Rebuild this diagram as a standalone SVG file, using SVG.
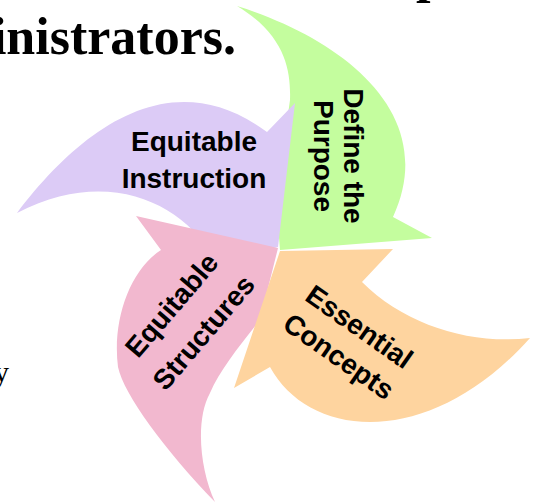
<svg xmlns="http://www.w3.org/2000/svg" width="537" height="503" viewBox="0 0 537 503">
<style>
.lbl{font-family:"Liberation Sans",Arial,sans-serif;font-weight:bold;font-size:28px;fill:#000;text-anchor:middle}
.bg{font-family:"Liberation Serif","Times New Roman",serif;fill:#000}
</style>
<rect width="537" height="503" fill="#fff"/>
<text class="bg" x="236" y="54" font-size="52" font-weight="bold" text-anchor="end">inistrators.</text>
<text class="bg" x="416" y="-8" font-size="52" font-weight="bold">p</text>
<text class="bg" x="9" y="382" font-size="30" text-anchor="end">y</text>
<g id="define-purpose">
<path d="M237,6 C345,40 440,115 393,217 L432,238 L280,250 L276,200 L290,100 C291,70 285,35 237,6 Z" fill="#c4fd9e"/>
<text class="lbl" font-size="27" transform="translate(344,156) rotate(90)"><tspan x="0" y="0">Define the</tspan><tspan x="0" y="30">Purpose</tspan></text>
</g>
<g id="equitable-instruction">
<path d="M17,213 C80,130 170,60 267,132 L295,103 L278,247 L215,260 C185,205 110,165 17,213 Z" fill="#dccbf6"/>
<text class="lbl"><tspan x="194" y="151">Equitable</tspan><tspan x="194" y="188">Instruction</tspan></text>
</g>
<g id="equitable-structures">
<path d="M136,216 L161,250 C130,270 112,320 118,367 C124,395 165,450 215,502 C200,470 195,420 210,393 C220,370 240,345 260,320 L265,300 L278,248 Z" fill="#f2b8cf"/>
<text class="lbl" transform="translate(195,325) rotate(-49.5)"><tspan x="0" y="-21">Equitable</tspan><tspan x="0" y="21">Structures</tspan></text>
</g>
<g id="essential-concepts">
<path d="M270,367 C310,440 430,450 530,338 C470,345 405,325 362,282 L393,249 L280,251 L234,388 Z" fill="#fed49f"/>
<text class="lbl" transform="translate(343.5,349.5) rotate(35)"><tspan x="0" y="-18">Essential</tspan><tspan x="0" y="18">Concepts</tspan></text>
</g>
<g id="connectors"/>
</svg>
